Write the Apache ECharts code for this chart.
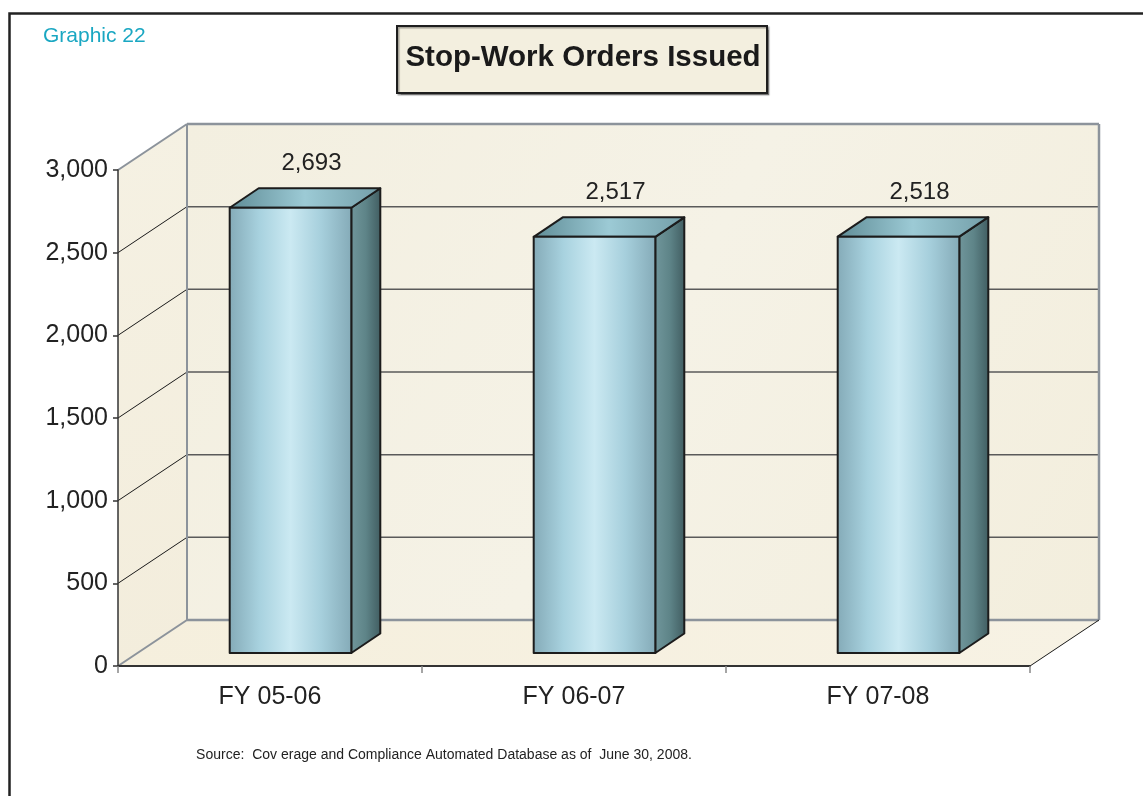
<!DOCTYPE html>
<html>
<head>
<meta charset="utf-8">
<script src="https://cdn.jsdelivr.net/npm/echarts@6/dist/echarts.min.js"></script>
<style>
html,body{margin:0;padding:0;background:#fff;}
#chart{width:1143px;height:796px;}
</style>
</head>
<body>
<div id="chart"></div>
<script>
const categories = ['FY 05-06', 'FY 06-07', 'FY 07-08'];
const values = [2693, 2517, 2518];
const yTicks = [0, 500, 1000, 1500, 2000, 2500, 3000];
const titleText = 'Stop-Work Orders Issued';
const graphicLabel = 'Graphic 22';
const sourceText = 'Source:  Cov erage and Compliance Automated Database as of  June 30, 2008.';

const FONT = '"Liberation Sans", Arial, sans-serif';
const DX = 69, DY = -46;          // wall depth offset
const FX = 19.5, FY = -13;        // bar front-face depth offset
const BX = 29, BY = -19.5;        // bar depth

const chart = echarts.init(document.getElementById('chart'), null, {renderer: 'canvas'});

function wallsRender(params, api) {
  const cs = params.coordSys;
  const x0 = cs.x, x1 = cs.x + cs.width;
  const yBot = api.coord([0, yTicks[0]])[1];
  const yTop = api.coord([0, yTicks[yTicks.length - 1]])[1];
  const children = [];
  // left wall
  children.push({type: 'polygon', shape: {points: [[x0, yTop], [x0 + DX, yTop + DY], [x0 + DX, yBot + DY], [x0, yBot]]},
    style: {fill: new echarts.graphic.LinearGradient(0, 0, 1, 1, [{offset: 0, color: '#f5f1e3'}, {offset: 1, color: '#f3eddc'}])}});
  // back wall
  children.push({type: 'rect', shape: {x: x0 + DX, y: yTop + DY, width: x1 - x0, height: yBot - yTop},
    style: {fill: new echarts.graphic.LinearGradient(0, 0, 1, 1, [{offset: 0, color: '#f3efe0'}, {offset: 0.5, color: '#f5f2e6'}, {offset: 1, color: '#f3eedd'}])}});
  // floor
  children.push({type: 'polygon', shape: {points: [[x0, yBot], [x0 + DX, yBot + DY], [x1 + DX, yBot + DY], [x1, yBot]]},
    style: {fill: new echarts.graphic.LinearGradient(0, 0, 1, 0, [{offset: 0, color: '#f5efdd'}, {offset: 1, color: '#f7f2e4'}])}});
  // grid lines
  yTicks.forEach(function (v, i) {
    const y = api.coord([0, v])[1];
    const edge = (i === 0 || i === yTicks.length - 1);
    children.push({type: 'line', shape: {x1: x0, y1: y, x2: x0 + DX, y2: y + DY},
      style: {stroke: edge ? '#8c939b' : '#1a1a1a', lineWidth: edge ? 2 : 1}});
    children.push({type: 'line', shape: {x1: x0 + DX, y1: y + DY, x2: x1 + DX, y2: y + DY},
      style: {stroke: edge ? '#8c939b' : '#5a5a5a', lineWidth: edge ? 2.5 : 1.5}});
  });
  // back wall vertical edges
  children.push({type: 'line', shape: {x1: x0 + DX, y1: yTop + DY, x2: x0 + DX, y2: yBot + DY}, style: {stroke: '#8c939b', lineWidth: 2}});
  children.push({type: 'line', shape: {x1: x1 + DX, y1: yTop + DY, x2: x1 + DX, y2: yBot + DY}, style: {stroke: '#8c939b', lineWidth: 2.5}});
  // floor right diagonal
  children.push({type: 'line', shape: {x1: x1, y1: yBot, x2: x1 + DX, y2: yBot + DY}, style: {stroke: '#1a1a1a', lineWidth: 1}});
  return {type: 'group', children: children};
}

function barRender(params, api) {
  const idx = api.value(0);
  const val = api.value(1);
  const top = api.coord([idx, val]);
  const base = api.coord([idx, 0]);
  const bandW = api.size([1, 0])[0];
  const w = bandW * 0.4;
  const fx0 = top[0] + FX + 1 - w / 2;
  const fx1 = fx0 + w;
  const ty = top[1] + FY;
  const by = base[1] + FY;
  const stroke = {stroke: '#1c1c1c', lineWidth: 2, lineJoin: 'round'};
  return {
    type: 'group',
    children: [
      {type: 'polygon', shape: {points: [[fx1, ty], [fx1 + BX, ty + BY], [fx1 + BX, by + BY], [fx1, by]]},
        style: Object.assign({fill: new echarts.graphic.LinearGradient(0, 0, 1, 0, [
          {offset: 0, color: '#71979c'}, {offset: 0.5, color: '#5e8488'}, {offset: 1, color: '#405c60'}])}, stroke)},
      {type: 'polygon', shape: {points: [[fx0, ty], [fx1, ty], [fx1 + BX, ty + BY], [fx0 + BX, ty + BY]]},
        style: Object.assign({fill: new echarts.graphic.LinearGradient(0, 0, 1, 0, [
          {offset: 0, color: '#5f8c96'}, {offset: 0.5, color: '#9ccad5'}, {offset: 1, color: '#739ea8'}])}, stroke)},
      {type: 'rect', shape: {x: fx0, y: ty, width: w, height: by - ty},
        style: Object.assign({fill: new echarts.graphic.LinearGradient(0, 0, 1, 0, [
          {offset: 0, color: '#84aab7'}, {offset: 0.25, color: '#a8d2df'}, {offset: 0.5, color: '#cbe9f2'},
          {offset: 0.75, color: '#a6cfdc'}, {offset: 1, color: '#84aab7'}])}, stroke)},
      {type: 'text', x: (fx0 + fx1) / 2 + 21, y: ty - 44,
        style: {text: Number(val).toLocaleString('en-US'), font: '24px ' + FONT, fill: '#222',
          align: 'center', verticalAlign: 'middle'}}
    ]
  };
}

const option = {
  animation: false,
  backgroundColor: '#ffffff',
  grid: {left: 118, top: 170, width: 912, height: 496, containLabel: false},
  xAxis: {
    type: 'category', data: categories, z: 5,
    axisLine: {show: true, lineStyle: {color: '#333', width: 2}},
    axisTick: {show: true, length: 7, lineStyle: {color: '#888', width: 1.5}},
    axisLabel: {color: '#222', fontSize: 25, fontFamily: FONT, margin: 19}
  },
  yAxis: {
    type: 'value', min: 0, max: 3000, interval: 500, z: 5,
    axisLine: {show: true, lineStyle: {color: '#333', width: 1.5}},
    axisTick: {show: true, length: 5, lineStyle: {color: '#333', width: 1.5}},
    axisLabel: {color: '#222', fontSize: 25, fontFamily: FONT, margin: 10,
      formatter: function (v) { return Number(v).toLocaleString('en-US'); }},
    splitLine: {show: false}
  },
  series: [
    {type: 'custom', name: 'walls', z: 1, silent: true, renderItem: wallsRender, data: [[0, 0]]},
    {type: 'custom', name: 'Stop-Work Orders', z: 3, renderItem: barRender,
      encode: {x: 0, y: 1}, data: categories.map(function (c, i) { return [i, values[i]]; })}
  ],
  graphic: [
    {type: 'rect', left: 7, top: 11, shape: {x: 0, y: 0, width: 1200, height: 900},
      style: {fill: 'none', stroke: '#222', lineWidth: 2.5}, z: 0},
    {type: 'text', left: 43, top: 26, style: {text: graphicLabel, font: '21px ' + FONT, fill: '#1aa7c2'}},
    {type: 'rect', shape: {x: 397, y: 26, width: 370, height: 67},
      style: {fill: '#f3efdf', stroke: '#1e1e1e', lineWidth: 2, shadowColor: 'rgba(0,0,0,0.35)', shadowOffsetX: 1.5, shadowOffsetY: 1.5, shadowBlur: 1}},
    {type: 'text', x: 583, y: 58, style: {text: titleText, font: 'bold 29.5px ' + FONT, fill: '#1a1a1a', align: 'center', verticalAlign: 'middle'}},
    {type: 'text', x: 444, y: 755, style: {text: sourceText, font: '14px ' + FONT, fill: '#222', align: 'center', verticalAlign: 'middle'}}
  ]
};
chart.setOption(option);
</script>
</body>
</html>
